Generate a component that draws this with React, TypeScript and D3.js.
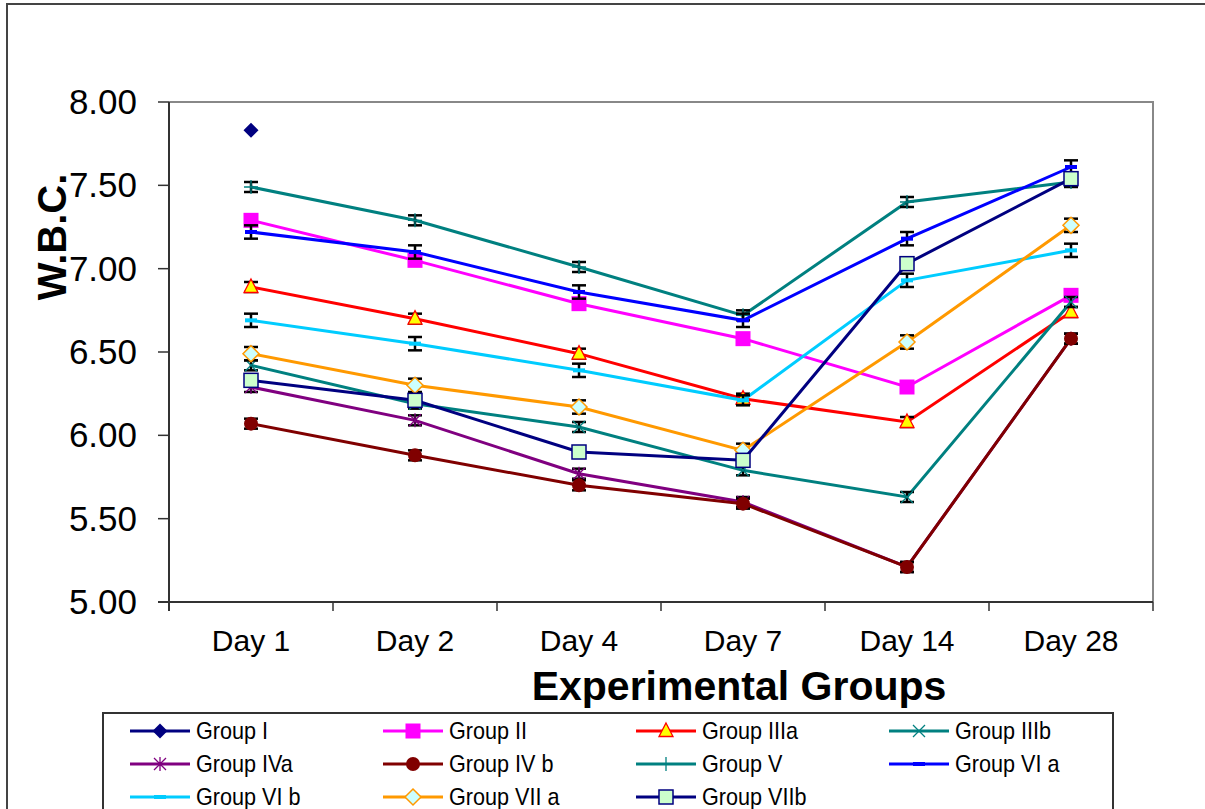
import React from "react";
import * as d3 from "d3";

const categories = ["Day 1", "Day 2", "Day 4", "Day 7", "Day 14", "Day 28"];
const yTicks = [5.0, 5.5, 6.0, 6.5, 7.0, 7.5, 8.0];

const groupI = [7.83, null, null, null, null, null];
const groupII = [7.29, 7.05, 6.79, 6.58, 6.29, 6.84];
const groupIIIa = [6.89, 6.7, 6.49, 6.22, 6.08, 6.74];
const groupIIIb = [6.42, 6.19, 6.05, 5.79, 5.63, 6.8];
const groupIVa = [6.29, 6.09, 5.77, 5.6, 5.21, 6.58];
const groupIVb = [6.07, 5.88, 5.7, 5.59, 5.21, 6.58];
const groupV = [7.49, 7.29, 7.01, 6.72, 7.4, 7.52];
const groupVIa = [7.22, 7.1, 6.86, 6.69, 7.18, 7.61];
const groupVIb = [6.69, 6.55, 6.39, 6.21, 6.93, 7.11];
const groupVIIa = [6.49, 6.3, 6.17, 5.91, 6.56, 7.26];
const groupVIIb = [6.33, 6.21, 5.9, 5.85, 7.03, 7.54];

const errII = [0.03, 0.03, 0.03, 0.03, 0.03, 0.03];
const errIIIa = [0.03, 0.03, 0.03, 0.03, 0.03, 0.03];
const errIIIb = [0.03, 0.03, 0.03, 0.03, 0.03, 0.03];
const errIVa = [0.03, 0.03, 0.03, 0.03, 0.03, 0.03];
const errIVb = [0.03, 0.03, 0.03, 0.03, 0.03, 0.03];
const errV = [0.03, 0.03, 0.03, 0.03, 0.03, 0.03];
const errVIa = [0.04, 0.04, 0.04, 0.04, 0.04, 0.04];
const errVIb = [0.04, 0.04, 0.04, 0.03, 0.04, 0.04];
const errVIIa = [0.04, 0.04, 0.04, 0.04, 0.04, 0.04];
const errVIIb = [0.03, 0.03, 0.03, 0.03, 0.03, 0.03];

type Marker = "diamond" | "square" | "triangle" | "x" | "star" | "circle" | "plus" | "dash" | "hollowDiamond" | "hollowSquare";

interface Series {
  name: string;
  values: (number | null)[];
  err: number[] | null;
  color: string;
  marker: Marker;
  fill: string;
}

const series: Series[] = [
  { name: "Group I", values: groupI, err: null, color: "#000080", marker: "diamond", fill: "#000080" },
  { name: "Group II", values: groupII, err: errII, color: "#FF00FF", marker: "square", fill: "#FF00FF" },
  { name: "Group IIIa", values: groupIIIa, err: errIIIa, color: "#FF0000", marker: "triangle", fill: "#FFFF00" },
  { name: "Group IIIb", values: groupIIIb, err: errIIIb, color: "#008080", marker: "x", fill: "none" },
  { name: "Group IVa", values: groupIVa, err: errIVa, color: "#800080", marker: "star", fill: "none" },
  { name: "Group IV b", values: groupIVb, err: errIVb, color: "#800000", marker: "circle", fill: "#800000" },
  { name: "Group V", values: groupV, err: errV, color: "#008080", marker: "plus", fill: "none" },
  { name: "Group VI a", values: groupVIa, err: errVIa, color: "#0000FF", marker: "dash", fill: "#0000FF" },
  { name: "Group VI b", values: groupVIb, err: errVIb, color: "#00CCFF", marker: "dash", fill: "#00CCFF" },
  { name: "Group VII a", values: groupVIIa, err: errVIIa, color: "#FF9900", marker: "hollowDiamond", fill: "#CCFFFF" },
  { name: "Group VIIb", values: groupVIIb, err: errVIIb, color: "#000080", marker: "hollowSquare", fill: "#CCFFCC" },
];

function MarkerShape({ m, x, y, color, fill }: { m: Marker; x: number; y: number; color: string; fill: string }) {
  switch (m) {
    case "diamond":
      return <path d={`M${x},${y - 7.5}L${x + 7.5},${y}L${x},${y + 7.5}L${x - 7.5},${y}Z`} fill={fill} />;
    case "square":
      return <rect x={x - 7.5} y={y - 7.5} width={15} height={15} fill={fill} />;
    case "triangle":
      return <path d={`M${x},${y - 8}L${x + 7},${y + 5.5}L${x - 7},${y + 5.5}Z`} fill={fill} stroke={color} strokeWidth={1.3} />;
    case "x":
      return <path d={`M${x - 6},${y - 6}L${x + 6},${y + 6}M${x + 6},${y - 6}L${x - 6},${y + 6}`} stroke={color} strokeWidth={1.3} />;
    case "star":
      return (
        <path
          d={`M${x - 6},${y - 6}L${x + 6},${y + 6}M${x + 6},${y - 6}L${x - 6},${y + 6}M${x},${y - 7}L${x},${y + 7}`}
          stroke={color}
          strokeWidth={1.3}
        />
      );
    case "circle":
      return <circle cx={x} cy={y} r={7} fill={fill} />;
    case "plus":
      return <path d={`M${x - 7},${y}L${x + 7},${y}M${x},${y - 7}L${x},${y + 7}`} stroke={color} strokeWidth={1.3} />;
    case "dash":
      return <rect x={x - 6} y={y - 2} width={12} height={4} fill={fill} />;
    case "hollowDiamond":
      return <path d={`M${x},${y - 8}L${x + 8},${y}L${x},${y + 8}L${x - 8},${y}Z`} fill={fill} stroke={color} strokeWidth={1.5} />;
    case "hollowSquare":
      return <rect x={x - 7} y={y - 7} width={14} height={14} fill={fill} stroke={color} strokeWidth={1.5} />;
  }
  return null;
}

export default function App() {
  const W = 1205;
  const H = 809;
  const left = 169;
  const right = 1153;
  const top = 102;
  const bottom = 602;

  const x = d3.scaleBand<string>().domain(categories).range([left, right]);
  const cx = (c: string) => (x(c) as number) + x.bandwidth() / 2;
  const y = d3.scaleLinear().domain([5, 8]).range([bottom, top]);

  const line = d3
    .line<number | null>()
    .defined((d) => d !== null)
    .x((_, i) => cx(categories[i]))
    .y((d) => y(d as number));

  const font = "'Liberation Sans', Arial, sans-serif";

  const boundaries = categories.map((c) => x(c) as number).concat([right]);

  const legendCols = [130, 383, 636, 889];
  const legendRows = [731, 764, 797];

  return (
    <svg width={W} height={H} style={{ position: "absolute", left: 0, top: 0, background: "#fff" }}>
      <rect x={0} y={0} width={W} height={H} fill="#fff" />
      {/* outer frame */}
      <path d={`M7,${H + 5}L7,4L${W + 5},4`} fill="none" stroke="#444" strokeWidth={2} />

      {/* plot frame top/right */}
      <path d={`M${left},${top}L${right},${top}L${right},${bottom}`} fill="none" stroke="#888" strokeWidth={2} />

      {/* y axis */}
      <line x1={left} x2={left} y1={top} y2={bottom + 9} stroke="#333" strokeWidth={2} />
      {yTicks.map((t) => (
        <g key={t}>
          <line x1={left - 11} x2={left} y1={y(t)} y2={y(t)} stroke="#333" strokeWidth={1.5} />
          <text x={137} y={y(t) + 12} textAnchor="end" fontFamily={font} fontSize={35} fill="#000">
            {t.toFixed(2)}
          </text>
        </g>
      ))}

      {/* x axis */}
      <line x1={left - 11} x2={right} y1={bottom} y2={bottom} stroke="#333" strokeWidth={2} />
      {boundaries.map((b, i) => (
        <line key={i} x1={b} x2={b} y1={bottom} y2={bottom + 9} stroke="#333" strokeWidth={1.5} />
      ))}
      {categories.map((c) => (
        <text key={c} x={cx(c)} y={651} textAnchor="middle" fontFamily={font} fontSize={30} fill="#000">
          {c}
        </text>
      ))}

      {/* axis titles */}
      <text x={739} y={700} textAnchor="middle" fontFamily={font} fontSize={41} fontWeight="bold" fill="#000">
        Experimental Groups
      </text>
      <text
        transform={`translate(66,237) rotate(-90)`}
        textAnchor="middle"
        fontFamily={font}
        fontSize={40}
        fontWeight="bold"
        fill="#000"
      >
        W.B.C.
      </text>

      {/* series */}
      {series.map((s) => (
        <g key={s.name}>
          <path d={line(s.values) || ""} fill="none" stroke={s.color} strokeWidth={3} />
          {s.err &&
            s.values.map((v, i) => {
              if (v === null) return null;
              const e = (s.err as number[])[i];
              const px = cx(categories[i]);
              const y1 = y(v + e);
              const y2 = y(v - e);
              return (
                <g key={i} stroke="#000" strokeWidth={2.5}>
                  <line x1={px} x2={px} y1={y1} y2={y2} />
                  <line x1={px - 7} x2={px + 7} y1={y1} y2={y1} />
                  <line x1={px - 7} x2={px + 7} y1={y2} y2={y2} />
                </g>
              );
            })}
          {s.values.map((v, i) =>
            v === null ? null : (
              <MarkerShape key={i} m={s.marker} x={cx(categories[i])} y={y(v)} color={s.color} fill={s.fill} />
            )
          )}
        </g>
      ))}

      {/* legend */}
      <path d={`M103,${H + 5}L103,713L1113,713L1113,${H + 5}`} fill="#fff" stroke="#333" strokeWidth={2} />
      {series.map((s, i) => {
        const lx = legendCols[i % 4];
        const ly = legendRows[Math.floor(i / 4)];
        return (
          <g key={s.name}>
            <line x1={lx} x2={lx + 60} y1={ly} y2={ly} stroke={s.color} strokeWidth={3} />
            <MarkerShape m={s.marker} x={lx + 30} y={ly} color={s.color} fill={s.fill} />
            <text
              transform={`translate(${lx + 66},${ly + 8}) scale(0.9,1)`}
              fontFamily={font}
              fontSize={24}
              fill="#000"
            >
              {s.name}
            </text>
          </g>
        );
      })}
    </svg>
  );
}
